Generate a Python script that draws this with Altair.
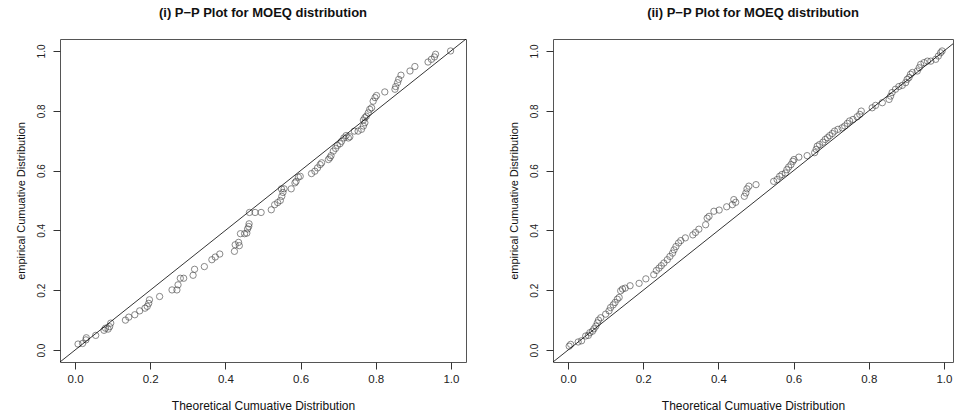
import altair as alt
import pandas as pd

# ---- data ----
p1_x = [0.008, 0.020, 0.029, 0.030, 0.055, 0.077, 0.081, 0.088, 0.092, 0.095,
        0.134, 0.143, 0.159, 0.172, 0.186, 0.192, 0.196, 0.198, 0.225, 0.258,
        0.271, 0.274, 0.280, 0.289, 0.314, 0.318, 0.344, 0.364, 0.373, 0.385,
        0.424, 0.426, 0.435, 0.437, 0.440, 0.451, 0.457, 0.459, 0.462, 0.463,
        0.464, 0.479, 0.495, 0.522, 0.531, 0.539, 0.546, 0.550, 0.553, 0.549,
        0.556, 0.575, 0.585, 0.588, 0.594, 0.599, 0.629, 0.638, 0.645, 0.652,
        0.656, 0.674, 0.678, 0.681, 0.687, 0.693, 0.698, 0.705, 0.709, 0.715,
        0.721, 0.727, 0.731, 0.743, 0.753, 0.762, 0.767, 0.771, 0.767, 0.771,
        0.775, 0.780, 0.784, 0.789, 0.793, 0.798, 0.802, 0.824, 0.851, 0.853,
        0.858, 0.861, 0.867, 0.891, 0.904, 0.939, 0.948, 0.956, 0.959, 0.999]
p1_y = [0.020, 0.022, 0.034, 0.041, 0.049, 0.066, 0.073, 0.070, 0.078, 0.090,
        0.100, 0.110, 0.118, 0.131, 0.140, 0.146, 0.156, 0.168, 0.179, 0.201,
        0.201, 0.218, 0.240, 0.240, 0.250, 0.270, 0.279, 0.302, 0.311, 0.321,
        0.330, 0.352, 0.360, 0.349, 0.389, 0.389, 0.391, 0.405, 0.413, 0.422,
        0.460, 0.460, 0.460, 0.469, 0.486, 0.493, 0.500, 0.514, 0.527, 0.539,
        0.539, 0.539, 0.559, 0.564, 0.578, 0.581, 0.590, 0.598, 0.609, 0.620,
        0.626, 0.637, 0.643, 0.650, 0.665, 0.674, 0.684, 0.690, 0.698, 0.709,
        0.717, 0.709, 0.713, 0.732, 0.732, 0.738, 0.749, 0.760, 0.769, 0.777,
        0.782, 0.793, 0.805, 0.810, 0.832, 0.844, 0.851, 0.863, 0.872, 0.881,
        0.894, 0.905, 0.919, 0.933, 0.948, 0.963, 0.972, 0.980, 0.989, 1.000]

p2_x = [0.003, 0.007, 0.027, 0.036, 0.047, 0.054, 0.058, 0.065, 0.069, 0.074,
        0.078, 0.081, 0.087, 0.100, 0.109, 0.113, 0.120, 0.125, 0.131, 0.136,
        0.140, 0.145, 0.152, 0.165, 0.189, 0.207, 0.228, 0.235, 0.242, 0.248,
        0.255, 0.264, 0.271, 0.278, 0.282, 0.287, 0.294, 0.300, 0.312, 0.332,
        0.339, 0.348, 0.366, 0.370, 0.375, 0.388, 0.402, 0.422, 0.437, 0.446,
        0.441, 0.469, 0.473, 0.476, 0.481, 0.500, 0.547, 0.556, 0.563, 0.569,
        0.578, 0.582, 0.587, 0.593, 0.598, 0.601, 0.614, 0.636, 0.656, 0.660,
        0.663, 0.669, 0.678, 0.684, 0.690, 0.696, 0.703, 0.709, 0.718, 0.729,
        0.736, 0.743, 0.749, 0.758, 0.769, 0.776, 0.780, 0.809, 0.818, 0.836,
        0.854, 0.858, 0.862, 0.871, 0.880, 0.889, 0.898, 0.902, 0.907, 0.911,
        0.916, 0.929, 0.934, 0.938, 0.947, 0.956, 0.965, 0.978, 0.985, 0.991,
        0.995]
p2_y = [0.013, 0.019, 0.027, 0.031, 0.047, 0.049, 0.058, 0.063, 0.071, 0.080,
        0.091, 0.100, 0.108, 0.120, 0.131, 0.142, 0.151, 0.159, 0.170, 0.176,
        0.198, 0.204, 0.207, 0.215, 0.223, 0.238, 0.252, 0.266, 0.274, 0.282,
        0.291, 0.302, 0.313, 0.324, 0.335, 0.346, 0.358, 0.366, 0.375, 0.385,
        0.393, 0.404, 0.419, 0.441, 0.447, 0.464, 0.468, 0.479, 0.486, 0.494,
        0.503, 0.514, 0.525, 0.539, 0.548, 0.553, 0.564, 0.570, 0.581, 0.587,
        0.592, 0.603, 0.612, 0.620, 0.631, 0.637, 0.645, 0.650, 0.660, 0.671,
        0.682, 0.687, 0.695, 0.704, 0.710, 0.717, 0.724, 0.732, 0.738, 0.743,
        0.749, 0.758, 0.766, 0.771, 0.780, 0.788, 0.799, 0.810, 0.818, 0.827,
        0.838, 0.849, 0.861, 0.872, 0.881, 0.885, 0.894, 0.905, 0.911, 0.922,
        0.928, 0.933, 0.944, 0.955, 0.961, 0.966, 0.966, 0.972, 0.983, 0.994,
        1.000]

tick_values = [0.0, 0.2, 0.4, 0.6, 0.8, 1.0]
y_domain = [-0.04, 1.04]
x_domains = [[-0.04, 1.04], [-0.04, 1.024]]
titles = ["(i) P\u2212P Plot for MOEQ distribution",
          "(ii) P\u2212P Plot for MOEQ distribution"]
x_title = "Theoretical Cumuative Distribution"
y_title = "empirical Cumuative Distribution"

FONT = "Liberation Sans"


def panel(xs, ys, title, width, x_domain):
    pts = pd.DataFrame({"x": xs, "y": ys})
    ref = pd.DataFrame({"x": y_domain, "y": y_domain})
    xsc = alt.Scale(domain=x_domain, nice=False, zero=False)
    ysc = alt.Scale(domain=y_domain, nice=False, zero=False)
    xax = alt.Axis(values=tick_values, format=".1f", title=x_title,
                   labelFontSize=11.5, titleFontSize=12,
                   labelPadding=4, titlePadding=16)
    yax = alt.Axis(values=tick_values, format=".1f", title=y_title,
                   labelFontSize=10, titleFontSize=11,
                   labelAngle=270, labelAlign="center", labelBaseline="bottom",
                   labelPadding=7, titlePadding=10)
    points = alt.Chart(pts).mark_point(
        shape="circle", filled=False, size=40, stroke="#444", strokeWidth=0.9
    ).encode(
        x=alt.X("x:Q", scale=xsc, axis=xax),
        y=alt.Y("y:Q", scale=ysc, axis=yax),
    )
    line = alt.Chart(ref).mark_line(color="black", strokeWidth=0.8, clip=True).encode(
        x=alt.X("x:Q", scale=xsc),
        y=alt.Y("y:Q", scale=ysc),
    )
    return alt.layer(points, line).properties(
        width=width, height=323,
        title=alt.TitleParams(title, font=FONT, fontSize=13, fontWeight="bold",
                              anchor="middle", offset=19, color="#111"),
    )


chart = alt.hconcat(
    panel(p1_x, p1_y, titles[0], 406, x_domains[0]),
    panel(p2_x, p2_y, titles[1], 400, x_domains[1]),
    spacing=40,
).properties(
    padding={"left": 14, "top": 6, "right": 0, "bottom": 0},
    background="white",
).configure_axis(
    grid=False, domain=False, tickColor="#333", tickSize=7, tickWidth=1,
    labelFont=FONT, labelColor="#222",
    titleFont=FONT, titleFontWeight="normal", titleColor="#111",
).configure_view(
    stroke="#555", strokeWidth=1,
)

chart.save("out.html", embed_options={"renderer": "svg", "actions": False})
